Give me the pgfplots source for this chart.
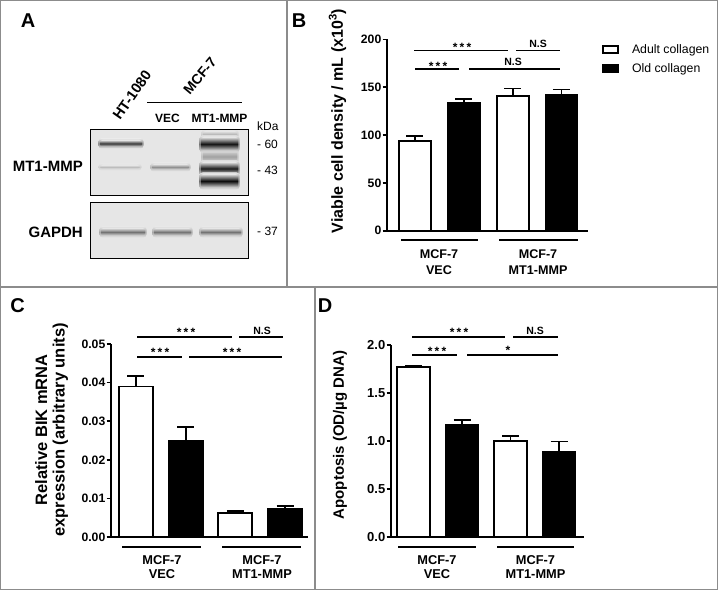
\documentclass[border=0pt]{standalone}
\usepackage{pgfplots}
\pgfplotsset{compat=1.18}
\usepackage{fontspec}
\setmainfont{Liberation Sans}
\definecolor{framec}{HTML}{8C8C8C}
\definecolor{blotbg}{HTML}{E6E6E6}
\newcommand{\fs}[1]{\fontsize{#1}{#1}\selectfont}
\newcommand{\stars}{*\kern2.2pt*\kern2.2pt*}
\pgfplotsset{
 gp/.style={
  scale only axis,
  axis x line*=bottom, axis y line*=left,
  xtick=\empty, tick align=outside, major tick length=4.5pt,
  every tick/.style={black, line width=1.6pt},
  axis line style={black, line width=1.8pt},
  yticklabel style={font=\bfseries\fs{12.2}, inner sep=1pt},
  /pgf/number format/assume math mode=true,
  ymin=0, ybar, bar shift=0pt, clip=false,
  scaled y ticks=false,
  legend image code/.code={\draw[#1, line width=1.5pt] (0pt,-3.5pt) rectangle (15pt,3.5pt); \path[draw=none, fill=none] (0pt,0pt) -- (27pt,0pt);},
 },
 wbar/.style={fill=white, draw=black, line width=1.8pt,
   error bars/.cd, y dir=plus, y explicit,
   error bar style={line width=1.8pt, black},
   error mark options={rotate=90, mark size=8.5pt, line width=1.8pt, black}},
 bbar/.style={fill=black, draw=black, line width=1.8pt,
   error bars/.cd, y dir=plus, y explicit,
   error bar style={line width=1.8pt, black},
   error mark options={rotate=90, mark size=8.5pt, line width=1.8pt, black}},
}
% blurred blot band: x1, x2, ytop (image px), ybottom (image px), darkness in percent
\newcommand{\band}[5]{%
 \pgfmathtruncatemacro\halo{#5*0.55}%
 \shade[top color=blotbg, bottom color=blotbg, middle color=black!\halo!blotbg, rounded corners=3pt] ({#1-1.5},{590-#3+1.5}) rectangle ({#2+1.5},{590-#4-1.5});
 \shade[top color=blotbg, bottom color=blotbg, middle color=black!#5!blotbg, rounded corners=2.5pt] (#1,{590-#3}) rectangle (#2,{590-#4});}
\begin{document}
\begin{tikzpicture}[x=1pt,y=1pt]
\useasboundingbox (0,0) rectangle (719,590);
% frames
\draw[framec, line width=1.2pt] (0.6,0.6) rectangle (717.4,589.4);
\draw[framec, line width=1.2pt] (287,589.4) -- (287,303);
\draw[framec, line width=1.2pt] (0.6,303) -- (717.4,303);
\draw[framec, line width=1.2pt] (315,303) -- (315,0.6);
% panel letters
\node[anchor=base, font=\bfseries\fs{20}] at (28,562) {A};
\node[anchor=base, font=\bfseries\fs{20}] at (299,562) {B};
\node[anchor=base, font=\bfseries\fs{20}] at (17.5,278) {C};
\node[anchor=base, font=\bfseries\fs{20}] at (325,278) {D};
% ---------- Panel A: blot ----------
\fill[blotbg] (90,460) rectangle (248,395);
\fill[blotbg] (90,388) rectangle (248,332);
\band{100}{142}{140}{147}{75}
\band{100}{140}{165}{169}{18}
\band{152}{189}{164}{170}{38}
\band{203}{237}{131}{138}{22}
\band{203}{237}{149}{164}{30}
\band{201}{238}{137}{151}{92}
\band{201}{238}{162}{175}{88}
\band{201}{238}{174}{188}{96}
\band{101}{145}{228}{236}{50}
\band{154}{191}{228}{236}{50}
\band{201}{241}{228}{236}{50}
\draw[black, line width=1pt] (90,460) rectangle (248,395);
\draw[black, line width=1pt] (90,388) rectangle (248,332);
\draw[black, line width=0.8pt] (147,487.3) -- (242,487.3);
\node[anchor=base, font=\bfseries\fs{12}] at (167.5,467) {VEC};
\node[anchor=base, font=\bfseries\fs{12}] at (219.5,467) {MT1-MMP};
\node[rotate=55, font=\bfseries\fs{14.5}] at (132,495) {HT-1080};
\node[rotate=50, font=\bfseries\fs{14}] at (200,514) {MCF-7};
\node[anchor=base east, font=\bfseries\fs{15}, inner sep=0pt] at (83,418) {MT1-MMP};
\node[anchor=base east, font=\bfseries\fs{15}, inner sep=0pt] at (83,353) {GAPDH};
\node[anchor=base west, font=\fs{12}, inner sep=0pt] at (257,459) {kDa};
\node[anchor=base west, font=\fs{12}, inner sep=0pt] at (257,441) {- 60};
\node[anchor=base west, font=\fs{12}, inner sep=0pt] at (257,415) {- 43};
\node[anchor=base west, font=\fs{12}, inner sep=0pt] at (257,355) {- 37};
% ---------- Panel B ----------
\begin{axis}[gp, at={(387pt,359.3pt)}, anchor=south west, width=201pt, height=191.4pt,
  xmin=-0.573, xmax=3.543, ymax=200, ytick={0,50,100,150,200},
  bar width=32pt,
  legend style={at={(1.07,0.985)}, anchor=north west, draw=none, fill=none,
    font=\fs{12.3}, row sep=4.5pt, inner sep=0pt},
  legend cell align=left]
\addplot[wbar] coordinates {(0,93.4) +- (0,5.6) (2,140.6) +- (0,8.0)};
\addlegendentry{Adult collagen}
\addplot[bbar] coordinates {(1,133.6) +- (0,4.2) (3,142.4) +- (0,5.2)};
\addlegendentry{Old collagen}
\end{axis}
\node[rotate=90, font=\bfseries\fs{16}] at (337.5,469) {Viable cell density / mL (x10\textsuperscript{3})};
\draw[line width=1.8pt] (401,350) -- (478,350) (499,350) -- (578,350);
\node[anchor=base, font=\bfseries\fs{12.6}] at (439,331.7) {MCF-7};
\node[anchor=base, font=\bfseries\fs{12.6}] at (439,316) {VEC};
\node[anchor=base, font=\bfseries\fs{12.6}] at (538,331.7) {MCF-7};
\node[anchor=base, font=\bfseries\fs{12.6}] at (538,316) {MT1-MMP};
\draw[line width=1.8pt] (414,539.5) -- (508,539.5) (516,539.5) -- (560,539.5);
\draw[line width=1.8pt] (415,521) -- (459,521) (469,521) -- (560,521);
\node[anchor=base, font=\bfseries\fs{12}, inner sep=0pt] at (462,538) {\stars};
\node[anchor=base, font=\bfseries\fs{10.5}, inner sep=0pt] at (538,542) {N.S};
\node[anchor=base, font=\bfseries\fs{12}, inner sep=0pt] at (438,519.8) {\stars};
\node[anchor=base, font=\bfseries\fs{10.5}, inner sep=0pt] at (513,524) {N.S};
% ---------- Panel C ----------
\begin{axis}[gp, at={(111pt,53pt)}, anchor=south west, width=197pt, height=193pt,
  xmin=-0.503, xmax=3.463, ymax=0.05, ytick={0,0.01,0.02,0.03,0.04,0.05},
  yticklabel style={/pgf/number format/.cd, fixed, fixed zerofill, precision=2},
  bar width=34pt]
\addplot[wbar] coordinates {(0,0.0390) +- (0,0.0028) (2,0.0062) +- (0,0.0005)};
\addplot[bbar] coordinates {(1,0.0250) +- (0,0.0036) (3,0.0072) +- (0,0.0008)};
\end{axis}
\node[rotate=90, align=center, font=\bfseries\fs{16.5}] at (51.5,160) {Relative BIK mRNA\\[1pt]expression (arbitrary units)};
\draw[line width=1.8pt] (122,43.3) -- (201,43.3) (222,43.3) -- (301,43.3);
\node[anchor=base, font=\bfseries\fs{12.8}] at (162,25.7) {MCF-7};
\node[anchor=base, font=\bfseries\fs{12.8}] at (162,11.7) {VEC};
\node[anchor=base, font=\bfseries\fs{12.8}] at (262,25.7) {MCF-7};
\node[anchor=base, font=\bfseries\fs{12.8}] at (262,11.7) {MT1-MMP};
\draw[line width=1.8pt] (137,253.3) -- (232,253.3) (239,253.3) -- (283,253.3);
\draw[line width=1.8pt] (137,232.7) -- (182,232.7) (189,232.7) -- (282,232.7);
\node[anchor=base, font=\bfseries\fs{12}, inner sep=0pt] at (186,253.1) {\stars};
\node[anchor=base, font=\bfseries\fs{10.5}, inner sep=0pt] at (262,256) {N.S};
\node[anchor=base, font=\bfseries\fs{12}, inner sep=0pt] at (160,233.1) {\stars};
\node[anchor=base, font=\bfseries\fs{12}, inner sep=0pt] at (232,233.1) {\stars};
% ---------- Panel D ----------
\begin{axis}[gp, at={(391pt,53pt)}, anchor=south west, width=193pt, height=192pt,
  xmin=-0.464, xmax=3.515, ymax=2.0, ytick={0,0.5,1,1.5,2},
  yticklabel style={font=\bfseries\fs{13}, /pgf/number format/.cd, fixed, fixed zerofill, precision=1},
  bar width=33pt]
\addplot[wbar] coordinates {(0,1.77) +- (0,0.01) (2,1.00) +- (0,0.05)};
\addplot[bbar] coordinates {(1,1.17) +- (0,0.05) (3,0.885) +- (0,0.11)};
\end{axis}
\node[rotate=90, font=\bfseries\fs{15}] at (340,155) {Apoptosis (OD/µg DNA)};
\draw[line width=1.8pt] (398,43) -- (476,43) (497,43) -- (574,43);
\node[anchor=base, font=\bfseries\fs{12.8}] at (437,25.7) {MCF-7};
\node[anchor=base, font=\bfseries\fs{12.8}] at (437,11.7) {VEC};
\node[anchor=base, font=\bfseries\fs{12.8}] at (535.5,25.7) {MCF-7};
\node[anchor=base, font=\bfseries\fs{12.8}] at (535.5,11.7) {MT1-MMP};
\draw[line width=1.8pt] (412,253.3) -- (505,253.3) (513,253.3) -- (558,253.3);
\draw[line width=1.8pt] (412,235.3) -- (457,235.3) (467,235.3) -- (558,235.3);
\node[anchor=base, font=\bfseries\fs{12}, inner sep=0pt] at (459,253.1) {\stars};
\node[anchor=base, font=\bfseries\fs{10.5}, inner sep=0pt] at (535,256) {N.S};
\node[anchor=base, font=\bfseries\fs{12}, inner sep=0pt] at (437,234.1) {\stars};
\node[anchor=base, font=\bfseries\fs{12}, inner sep=0pt] at (508,235.1) {*};
\end{tikzpicture}
\end{document}
